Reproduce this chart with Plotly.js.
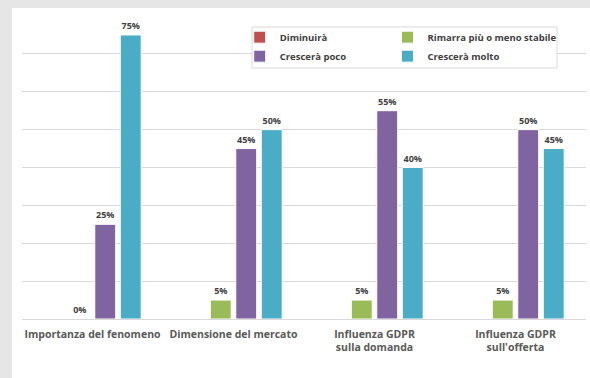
<!DOCTYPE html>
<html>
<head>
<meta charset="utf-8">
<script src="https://cdn.plot.ly/plotly-3.0.1.min.js"></script>
<style>
  html, body { margin: 0; padding: 0; background: #e6e6e6; width: 590px; height: 378px; overflow: hidden; }
  #chart { position: absolute; left: 12px; top: 8px; width: 578px; height: 370px; }
</style>
</head>
<body>
<div id="chart"></div>
<script>
const categories = ["Importanza del fenomeno", "Dimensione del mercato", "Influenza GDPR<br>sulla domanda", "Influenza GDPR<br>sull'offerta"];
const diminuira = [0, 0, 0, 0];
const rimarra = [0, 5, 5, 5];
const crescePoco = [25, 45, 55, 50];
const cresceMolto = [75, 50, 40, 45];
const seriesNames = ["Diminuirà", "Rimarra più o meno stabile", "Crescerà poco", "Crescerà molto"];
const seriesColors = ["#C0504D", "#9BBB59", "#8064A2", "#4BACC6"];

const FONT = "'Open Sans', Lato, sans-serif";
const values = [diminuira, rimarra, crescePoco, cresceMolto];
const legendOf = ["legend", "legend2", "legend", "legend2"];

const traces = values.map((v, i) => ({
  type: "bar",
  name: seriesNames[i],
  x: categories,
  y: v,
  marker: { color: seriesColors[i], line: { color: "#ffffff", width: 1 } },
  texttemplate: "%{y}%",
  textposition: i === 0 ? "none" : "outside",
  cliponaxis: false,
  textfont: { family: FONT, size: 9, color: "#404040", weight: 700 },
  legend: legendOf[i],
  hoverinfo: "x+y+name"
}));

const legendStyle = {
  yanchor: "top", xanchor: "left",
  orientation: "v",
  bgcolor: "rgba(0,0,0,0)",
  font: { family: FONT, size: 9.5, color: "#404040", weight: 700 },
  itemwidth: 30,
  traceorder: "normal"
};

const layout = {
  width: 578,
  height: 370,
  margin: { l: 10, r: 4, t: 8, b: 59 },
  paper_bgcolor: "#ffffff",
  plot_bgcolor: "#ffffff",
  barmode: "group",
  bargap: 0.277,
  bargroupgap: 0.18,
  font: { family: FONT, color: "#404040" },
  xaxis: {
    type: "category",
    tickfont: { family: FONT, size: 10.5, color: "#595959", weight: 700 },
    showgrid: false,
    ticks: "",
    showline: false,
    ticklabelstandoff: 7
  },
  yaxis: {
    range: [0, 80],
    dtick: 10,
    showticklabels: false,
    gridcolor: "#d9d9d9",
    gridwidth: 1,
    zeroline: true,
    zerolinecolor: "#d9d9d9",
    zerolinewidth: 1,
    fixedrange: true
  },
  showlegend: true,
  legend: Object.assign({ x: 0.386, y: 0.978 }, legendStyle),
  legend2: Object.assign({ x: 0.648, y: 0.978 }, legendStyle),
  shapes: [{
    type: "rect", xref: "paper", yref: "paper",
    x0: 0.4078, x1: 0.9486, y0: 0.8284, y1: 0.9637,
    line: { color: "#d9d9d9", width: 1 },
    fillcolor: "#ffffff",
    layer: "above"
  }]
};

Plotly.newPlot("chart", traces, layout, { displayModeBar: false, staticPlot: true });
</script>
</body>
</html>
